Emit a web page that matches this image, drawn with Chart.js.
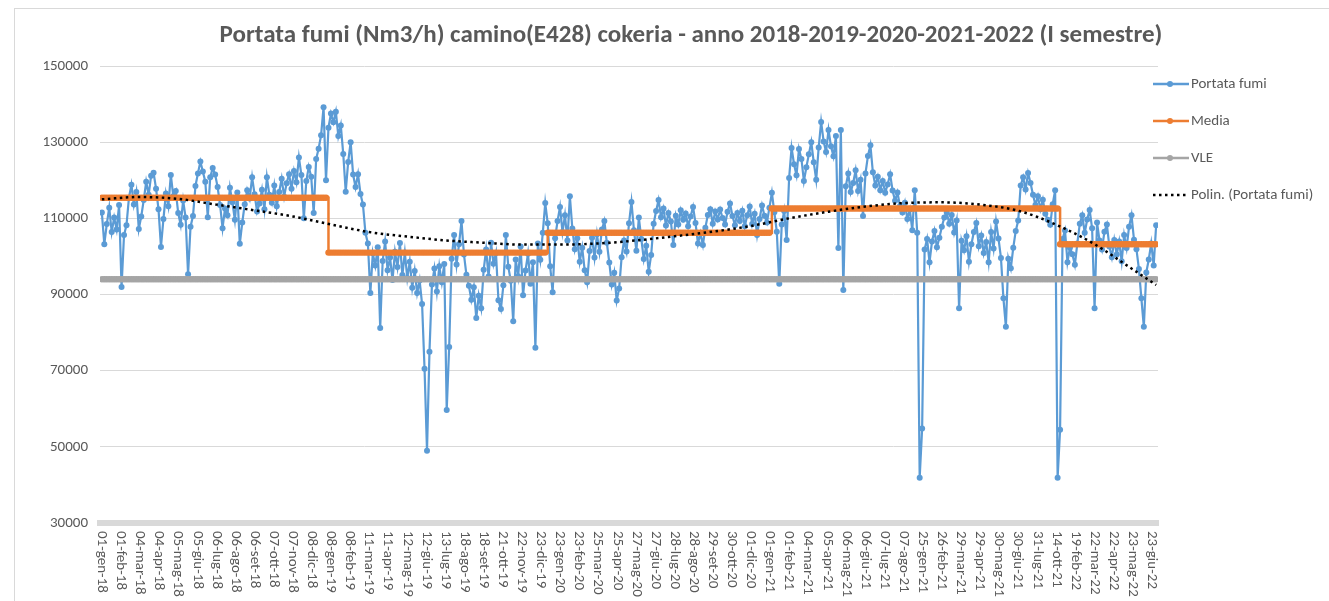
<!DOCTYPE html>
<html>
<head>
<meta charset="utf-8">
<script src="https://cdn.jsdelivr.net/npm/chart.js@4.4.1/dist/chart.umd.min.js"></script>
<style>
  html, body { margin: 0; padding: 0; background: #fff; overflow: hidden; }
  #box { position: absolute; left: 14px; top: 8px; width: 1360px; height: 600px;
         border-top: 1px solid #d9d9d9; border-left: 1px solid #d9d9d9; }
  #grafico { display: block; }
</style>
</head>
<body>
<div id="box"><canvas id="grafico" width="1352" height="592"></canvas></div>
<script>
// etichette dell'asse X (una ogni 31 giorni di misura)
const etichetteAsse = [
  '01-gen-18', '01-feb-18', '04-mar-18', '04-apr-18', '05-mag-18', '05-giu-18', '06-lug-18', '06-ago-18',
  '06-set-18', '07-ott-18', '07-nov-18', '08-dic-18', '08-gen-19', '08-feb-19', '11-mar-19', '11-apr-19',
  '12-mag-19', '12-giu-19', '13-lug-19', '18-ago-19', '18-set-19', '21-ott-19', '22-nov-19', '23-dic-19',
  '23-gen-20', '23-feb-20', '25-mar-20', '25-apr-20', '27-mag-20', '27-giu-20', '28-lug-20', '28-ago-20',
  '29-set-20', '30-ott-20', '01-dic-20', '01-gen-21', '01-feb-21', '04-mar-21', '05-apr-21', '06-mag-21',
  '06-giu-21', '07-lug-21', '07-ago-21', '25-gen-21', '26-feb-21', '29-mar-21', '29-apr-21', '30-mag-21',
  '30-giu-21', '31-lug-21', '14-ott-21', '19-feb-22', '22-mar-22', '22-apr-22', '23-mag-22', '23-giu-22'
];
const PASSO_ETICHETTE = 31;   // giorni tra due etichette
const PASSO_CAMPIONI = 4;     // giorni tra due valori letti

// Portata fumi (Nm3/h), un valore ogni 4 giorni di misura
const portataFumi = [
  111500, 103200, 108500, 112800, 106400, 110200, 107100, 113500, 92000, 105600,
  108200, 115400, 118800, 113600, 116900, 107200, 110500, 114800, 119600, 116200,
  121200, 122000, 117800, 112400, 102500, 109800, 116500, 113200, 121400, 115800,
  117200, 111400, 108300, 114700, 110200, 95300, 107800, 110600, 118500, 121800,
  124900, 122300, 119600, 110300, 120800, 123200, 121500, 118200, 113500, 107400,
  112600, 110800, 118000, 114200, 109600, 116800, 103300, 108900, 113700, 117400,
  115200, 120800, 116300, 111800, 113900, 117500, 112400, 120800, 116200, 114100,
  118600, 113200, 116900, 120400, 115700, 119200, 121600, 117800, 122400, 119500,
  126000, 121400, 110000, 119800, 123500, 120900, 111400, 125600, 128300, 131800,
  139200, 120000, 133800, 137500, 135200, 138000, 131600, 134400, 126900, 117000,
  124800, 130000, 121500, 118200, 121600, 116400, 113600, 106200, 103400, 90400,
  100800, 97600, 102400, 81200, 98800, 103900, 96400, 99700, 93800, 101200,
  97200, 103500, 95100, 101000, 94300, 98600, 91800, 96200, 90400, 93700,
  87500, 70500, 49000, 75000, 92600, 96800, 90800, 97400, 93200, 98000,
  59700, 76200, 99400, 105600, 97900, 103200, 109300, 100500, 95200, 92300,
  88600, 91900, 83800, 89700, 86400, 96500, 101800, 94700, 103600, 98100,
  100900, 88500, 86200, 92400, 105600, 97300, 93600, 83000, 99200, 94800,
  102600, 89800, 96300, 100700, 92800, 98500, 76000, 103400, 99100, 106200,
  114000, 108700, 97400, 90600, 104800, 109300, 113000, 106400, 110800, 104200,
  115800, 107300, 101900, 104800, 98600, 102300, 96400, 93200, 101400, 104900,
  99700, 105800, 101200, 107100, 109300, 103600, 98400, 92600, 95700, 88400,
  91600, 99800, 104200, 101300, 108700, 114300, 106900, 101500, 110200, 104600,
  99300, 102800, 96000, 100400, 108600, 111900, 114800, 110300, 112600, 108100,
  111400, 109200, 103000, 110700, 108400, 112100, 109600, 111300, 107900, 110500,
  113000, 108800, 103400, 106100, 103000, 107500, 110900, 112400, 108600, 111800,
  109700, 112300, 110100, 108400, 111700, 113900, 110600, 108200, 111400, 109300,
  112000, 107900, 110800, 113100, 108500, 111200, 105600, 109800, 113400, 110700,
  108900, 112800, 116700, 111600, 106500, 92800, 108400, 111900, 104300, 120600,
  128500, 124200, 121300, 128200, 125600, 119800, 123400, 126800, 130000, 124700,
  120100, 128600, 135300, 130200, 127400, 133200, 128900, 126300, 131600, 102200,
  133200, 91200, 118400, 121800, 116900, 119300, 122600, 117200, 120100, 110600,
  121800, 126400, 129200, 122100, 118600, 120900, 117400, 119800, 116700, 118900,
  121600, 117300, 114600, 116800, 113200, 111500, 114100, 109800, 112300, 106900,
  117400, 106200, 41900, 54800, 101800, 104600, 98500, 103900, 106700, 102400,
  104900, 107800, 110200, 111500, 108600, 110900, 106300, 109400, 86400, 104100,
  101600, 105300, 98600, 103200, 106400, 108800, 102700, 105500, 100900, 103800,
  98500, 106400, 102100, 109200, 104700, 99600, 89000, 81500, 99400, 96900,
  102300, 106700, 109400, 118600, 120800, 117600, 121900, 119300, 116200, 113500,
  115800, 112400, 114900, 111200, 109600, 108300, 113700, 117400, 41900, 54500,
  104600, 106800, 98500, 102300, 100600, 97800, 103400, 108600, 110800, 106200,
  109700, 112200, 107400, 86400, 108900, 104200, 101800, 106500, 108400, 102600,
  99800, 104300, 100500, 103900, 98700, 105600, 102200, 107800, 110800, 104400,
  101900, 96700, 89000, 81500, 95800, 99200, 103400, 97600, 108200
];

// media annuale: giorno di inizio e valore
const inizioMedia = [0, 366, 723, 1086, 1553];
const valoreMedia = [115400, 101000, 106200, 112600, 103200];

// valore limite di emissione
const vle = 94000;

// linea di tendenza polinomiale, un valore ogni 62 giorni (ultimo a fine serie)
const giorniTendenza = [0, 62, 124, 186, 248, 310, 372, 434, 496, 558, 620, 682, 744, 806, 868,
  930, 992, 1054, 1116, 1178, 1240, 1302, 1364, 1426, 1488, 1550, 1612, 1674, 1712];
const valoriTendenza = [115000, 115600, 115100, 113600, 112100, 110500, 108400, 106400, 105200,
  104200, 103600, 103100, 103100, 103400, 104200, 105300, 106500, 108000, 110000, 111700,
  113100, 114000, 114200, 113600, 112000, 108300, 103200, 96600, 92500];

const FONT = "Carlito, Calibri, 'Liberation Sans', sans-serif";
const GRIGIO_TESTO = '#595959';
const BLU = '#5B9BD5', ARANCIO = '#ED7D31', GRIGIO = '#A5A5A5';

const giorni = portataFumi.map((v, i) => i * PASSO_CAMPIONI);
const puntiPortata = portataFumi.map((v, i) => ({ x: giorni[i], y: v }));
// la media dell'anno ripetuta per ogni giorno, come nel foglio
const puntiMedia = giorni.map(g => {
    let k = 0;
    while (k + 1 < inizioMedia.length && g >= inizioMedia[k + 1]) k++;
    return { x: g, y: valoreMedia[k] };
});
const puntiVle = giorni.map(g => ({ x: g, y: vle }));
const puntiTendenza = giorniTendenza.map((g, i) => ({ x: g, y: valoriTendenza[i] }));

// etichette asse X ruotate (lettura dall'alto in basso) e legenda in stile Excel
const decorazioni = {
    id: 'decorazioni',
    afterDraw(chart) {
        const ctx = chart.ctx;
        const xs = chart.scales.x;
        const area = chart.chartArea;
        ctx.save();
        ctx.fillStyle = GRIGIO_TESTO;
        ctx.font = '15px ' + FONT;
        ctx.textAlign = 'left';
        ctx.textBaseline = 'middle';
        etichetteAsse.forEach((lab, j) => {
            const px = xs.getPixelForValue(j * PASSO_ETICHETTE);
            ctx.save();
            ctx.translate(px, area.bottom + 8);
            ctx.rotate(Math.PI / 2);
            ctx.fillText(lab, 0, 0);
            ctx.restore();
        });

        // legenda
        ctx.font = '15px ' + FONT;
        const x0 = area.right - 5;
        let y = area.top + 18;
        chart.data.datasets.forEach(ds => {
            ctx.save();
            ctx.strokeStyle = ds.borderColor;
            ctx.lineWidth = 2.5;
            ctx.beginPath();
            if (ds.tipoLegenda === 'punti') {
                ctx.setLineDash([2.5, 3.5]);
                ctx.moveTo(x0, y);
                ctx.lineTo(x0 + 33, y);
                ctx.stroke();
            } else {
                ctx.moveTo(x0, y);
                ctx.lineTo(x0 + 36, y);
                ctx.stroke();
                ctx.fillStyle = ds.borderColor;
                ctx.beginPath();
                ctx.arc(x0 + 17, y, 3, 0, Math.PI * 2);
                ctx.fill();
            }
            ctx.restore();
            ctx.fillText(ds.label, x0 + 38, y);
            y += 37;
        });
        ctx.restore();
    }
};

new Chart(document.getElementById('grafico').getContext('2d'), {
    type: 'line',
    data: {
        datasets: [{
            label: 'Portata fumi',
            data: puntiPortata,
            borderColor: BLU,
            backgroundColor: BLU,
            borderWidth: 2.2,
            pointRadius: 3,
            pointBorderWidth: 0,
            pointBackgroundColor: BLU,
            tension: 0,
            order: 3
        }, {
            label: 'Media',
            data: puntiMedia,
            borderColor: ARANCIO,
            backgroundColor: ARANCIO,
            borderWidth: 2.5,
            stepped: 'before',
            pointRadius: 3.2,
            pointBorderWidth: 0,
            pointBackgroundColor: ARANCIO,
            order: 2
        }, {
            label: 'VLE',
            data: puntiVle,
            borderColor: GRIGIO,
            backgroundColor: GRIGIO,
            borderWidth: 2.5,
            pointRadius: 3.2,
            pointBorderWidth: 0,
            pointBackgroundColor: GRIGIO,
            order: 1
        }, {
            label: 'Polin. (Portata fumi)',
            data: puntiTendenza,
            borderColor: '#000000',
            borderWidth: 2.5,
            borderDash: [2.5, 3.5],
            pointRadius: 0,
            cubicInterpolationMode: 'monotone',
            tipoLegenda: 'punti',
            order: 0
        }]
    },
    options: {
        responsive: false,
        animation: false,
        devicePixelRatio: 1,
        plugins: {
            legend: { display: false },
            tooltip: { enabled: false },
            title: {
                display: true,
                text: 'Portata fumi (Nm3/h) camino(E428) cokeria - anno 2018-2019-2020-2021-2022 (I semestre)',
                color: GRIGIO_TESTO,
                font: { family: FONT, size: 25, weight: 'bold', lineHeight: 1.2 },
                padding: { top: 12, bottom: 15 }
            }
        },
        scales: {
            x: {
                type: 'linear',
                min: -3,
                max: 1715,
                grid: { display: false },
                border: { display: true, color: '#d9d9d9', width: 6 },
                ticks: { display: false },
                afterFit: (scale) => { scale.height = 78; }
            },
            y: {
                min: 30000,
                max: 150000,
                ticks: {
                    stepSize: 20000,
                    color: GRIGIO_TESTO,
                    font: { family: FONT, size: 15 },
                    padding: 12,
                    callback: (v) => String(v)
                },
                grid: { color: '#d9d9d9', lineWidth: 1, drawTicks: false },
                border: { display: false },
                afterFit: (scale) => { scale.width = 85; }
            },
            // spazio a destra riservato alla legenda
            spazioLegenda: {
                position: 'right',
                display: true,
                ticks: { display: false },
                grid: { display: false },
                border: { display: false },
                afterFit: (scale) => { scale.width = 209; }
            }
        }
    },
    plugins: [decorazioni]
});
</script>
</body>
</html>
